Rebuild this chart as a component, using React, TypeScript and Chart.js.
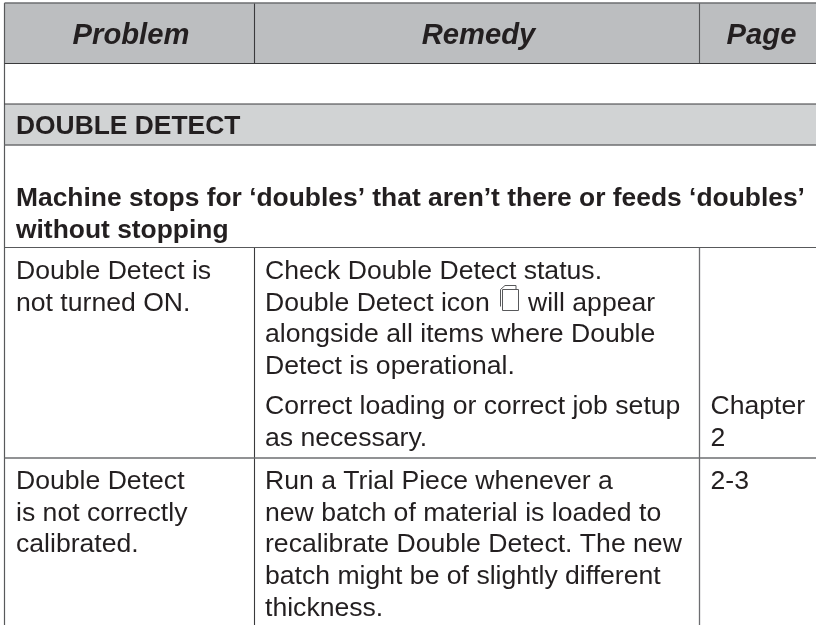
import React, { useEffect, useRef } from "react";
import { Chart, registerables } from "chart.js";

Chart.register(...registerables);

// ---- content ----
const headers = ["Problem", "Remedy", "Page"];
const sectionTitle = "DOUBLE DETECT";
const symptomLines = [
  "Machine stops for ‘doubles’ that aren’t there or feeds ‘doubles’",
  "without stopping",
];
const problemLines = [
  ["Double Detect is", "not turned ON."],
  ["Double Detect", "is not correctly", "calibrated."],
];
const remedyLines = [
  ["Check Double Detect status.", "Double Detect icon", "alongside all items where Double", "Detect is operational."],
  ["Correct loading or correct job setup", "as necessary."],
  ["Run a Trial Piece whenever a", "new batch of material is loaded to", "recalibrate Double Detect. The new", "batch might be of slightly different", "thickness."],
];
const iconTrailingText = "will appear";
const pageLines = [["Chapter", "2"], ["2-3"]];

// ---- layout ----
const W = 816;
const H = 625;
const columnEdges = [4.5, 254.5, 699.5];
const rowEdges = [3, 63.5, 104, 145, 247.5, 458];
const headerCenters = [131, 478.5, 761.5];
const textX = [16, 265, 710.5];
const BODY = "26.6px 'Liberation Sans'";
const BOLD = "bold 26.4px 'Liberation Sans'";
const HEAD = "italic bold 29.2px 'Liberation Sans'";
const INK = "#231f20";
const RULE = "#3a3a3c";

const seg = (x0: number, y0: number, x1: number, y1: number, color: string, w: number) => ({
  type: "scatter" as const,
  showLine: true,
  pointRadius: 0,
  borderColor: color,
  borderWidth: w,
  data: [{ x: x0, y: y0 }, { x: x1, y: y1 }],
});

const tablePlugin = {
  id: "tablePlugin",
  beforeDatasetsDraw(chart: any) {
    const { ctx, scales } = chart;
    const X = (v: number) => scales.x.getPixelForValue(v);
    const Y = (v: number) => scales.y.getPixelForValue(v);
    ctx.save();
    ctx.fillStyle = "#bcbec0";
    ctx.fillRect(X(columnEdges[0]), Y(rowEdges[0]), X(W) - X(columnEdges[0]), Y(rowEdges[1]) - Y(rowEdges[0]));
    ctx.fillStyle = "#d1d3d4";
    ctx.fillRect(X(columnEdges[0]), Y(rowEdges[2]), X(W) - X(columnEdges[0]), Y(rowEdges[3]) - Y(rowEdges[2]));
    ctx.restore();
  },
  afterDatasetsDraw(chart: any) {
    const { ctx, scales } = chart;
    const X = (v: number) => scales.x.getPixelForValue(v);
    const Y = (v: number) => scales.y.getPixelForValue(v);
    ctx.save();
    ctx.fillStyle = INK;
    ctx.textBaseline = "alphabetic";

    ctx.font = HEAD;
    ctx.textAlign = "center";
    headers.forEach((h, i) => ctx.fillText(h, X(headerCenters[i]), Y(44)));

    ctx.textAlign = "left";
    ctx.font = BOLD;
    ctx.fillText(sectionTitle, X(textX[0]), Y(134));
    ctx.fillText(symptomLines[0], X(textX[0]), Y(206));
    ctx.fillText(symptomLines[1], X(textX[0]), Y(237.5));

    ctx.font = BODY;
    const block = (lines: string[], x: number, first: number) =>
      lines.forEach((l, i) => ctx.fillText(l, X(x), Y(first + i * 31.7)));
    block(problemLines[0], textX[0], 279);
    block(problemLines[1], textX[0], 489);
    block(remedyLines[0], textX[1], 279);
    block(remedyLines[1], textX[1], 414);
    block(remedyLines[2], textX[1], 489);
    ctx.fillText(iconTrailingText, X(528), Y(310.7));
    block(pageLines[0], textX[2], 414);
    block(pageLines[1], textX[2], 489);

    // Double Detect icon
    ctx.strokeStyle = "#58595b";
    ctx.lineWidth = 1;
    ctx.beginPath();
    ctx.moveTo(X(502.5), Y(289.5));
    ctx.lineTo(X(502.5), Y(310.5));
    ctx.lineTo(X(518.5), Y(310.5));
    ctx.lineTo(X(518.5), Y(289.5));
    ctx.closePath();
    ctx.moveTo(X(500.5), Y(306.5));
    ctx.lineTo(X(500.5), Y(289.5));
    ctx.lineTo(X(505), Y(285.5));
    ctx.lineTo(X(516), Y(285.5));
    ctx.lineTo(X(516), Y(289.5));
    ctx.stroke();
    ctx.restore();
  },
};

export default function App() {
  const ref = useRef<HTMLCanvasElement | null>(null);
  useEffect(() => {
    if (!ref.current) return;
    const datasets: any[] = [
      seg(columnEdges[0], rowEdges[0], W, rowEdges[0], "#6d6e71", 1.5),
      seg(columnEdges[0], rowEdges[1], W, rowEdges[1], RULE, 1.2),
      seg(columnEdges[0], rowEdges[2], W, rowEdges[2], RULE, 1.2),
      seg(columnEdges[0], rowEdges[3], W, rowEdges[3], "#6d6e71", 1.5),
      seg(columnEdges[0], rowEdges[4], W, rowEdges[4], "#58595b", 1.2),
      seg(columnEdges[0], rowEdges[5], W, rowEdges[5], "#6d6e71", 1.5),
      seg(columnEdges[0], rowEdges[0], columnEdges[0], H, "#58595b", 1.2),
      seg(columnEdges[1], rowEdges[0], columnEdges[1], rowEdges[1], RULE, 1.1),
      seg(columnEdges[2], rowEdges[0], columnEdges[2], rowEdges[1], "#58595b", 1.1),
      seg(columnEdges[1], rowEdges[4], columnEdges[1], H, RULE, 1.1),
      seg(columnEdges[2], rowEdges[4], columnEdges[2], H, "#6d6e71", 1.3),
    ];
    const chart = new Chart(ref.current, {
      type: "scatter",
      data: { datasets },
      options: {
        animation: false,
        responsive: false,
        devicePixelRatio: 1,
        layout: { padding: 0 },
        plugins: { legend: { display: false }, tooltip: { enabled: false }, title: { display: false } },
        scales: {
          x: { type: "linear", min: 0, max: W, display: false },
          y: { type: "linear", min: 0, max: H, reverse: true, display: false },
        },
      },
      plugins: [tablePlugin],
    } as any);
    return () => chart.destroy();
  }, []);
  return (
    <canvas
      ref={ref}
      width={W}
      height={H}
      style={{ position: "absolute", left: 0, top: 0, width: W, height: H, display: "block", background: "#fff" }}
    />
  );
}
